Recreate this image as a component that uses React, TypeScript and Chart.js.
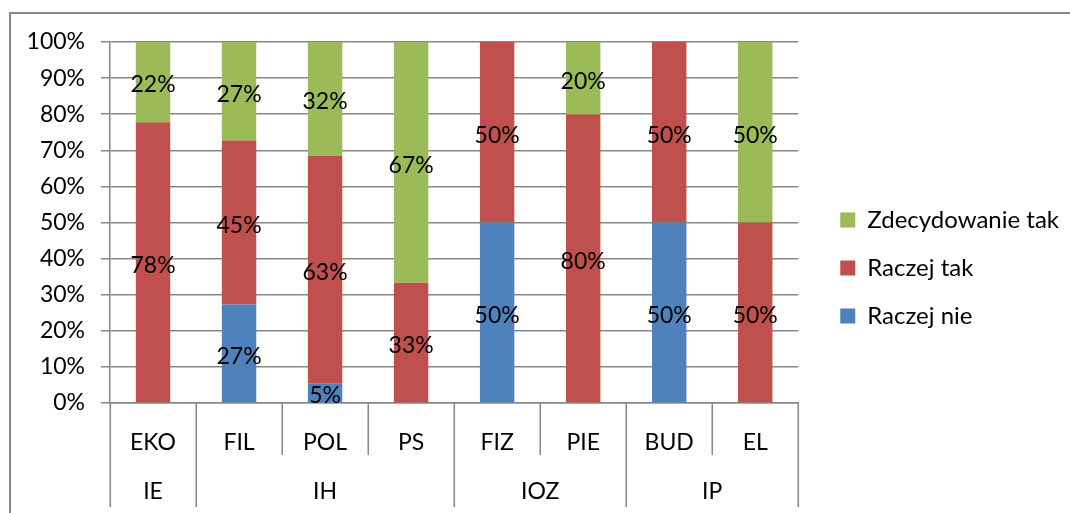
import React, { useEffect, useRef } from 'react';
import { Chart, registerables } from 'chart.js';

Chart.register(...registerables);

// ---- data ----
const categories = ['EKO', 'FIL', 'POL', 'PS', 'FIZ', 'PIE', 'BUD', 'EL'];
const groupLabels = ['IE', 'IH', 'IOZ', 'IP'];
const groupSizes = [1, 3, 2, 2];
const raczejNie = [0, 27.3, 5.3, 0, 50, 0, 50, 0];
const raczejTak = [77.8, 45.4, 63.2, 33.3, 50, 80, 50, 50];
const zdecydowanieTak = [22.2, 27.3, 31.5, 66.7, 0, 20, 0, 50];
const seriesNames = ['Raczej nie', 'Raczej tak', 'Zdecydowanie tak'];

// ---- style ----
const FONT = 'Lato';
const FS = 23;
const LEGEND_FS = 24;
const LEGEND_PAD = 24;
const LEGEND_BOX = 15;
const GRID = '#878787';
const COLORS = ['#4F81BD', '#C0504D', '#9BBB59'];

const frame = {
  id: 'frame',
  beforeDraw(chart: any) {
    const ctx = chart.ctx;
    ctx.save();
    ctx.fillStyle = '#ffffff';
    ctx.fillRect(0, 0, chart.width, chart.height);
    ctx.strokeStyle = GRID;
    ctx.lineWidth = 2;
    ctx.beginPath();
    ctx.moveTo(10, chart.height + 5);
    ctx.lineTo(10, 13);
    ctx.lineTo(chart.width + 5, 13);
    ctx.stroke();
    ctx.restore();
  },
};

const dataLabels = {
  id: 'dataLabels',
  afterDatasetsDraw(chart: any) {
    const ctx = chart.ctx;
    ctx.save();
    ctx.font = `${FS}px ${FONT}`;
    ctx.fillStyle = '#000';
    ctx.textAlign = 'center';
    ctx.textBaseline = 'middle';
    chart.data.datasets.forEach((ds: any, i: number) => {
      const meta = chart.getDatasetMeta(i);
      meta.data.forEach((el: any, j: number) => {
        const v = ds.data[j];
        if (!v) return;
        const p = el.getProps(['x', 'y', 'base'], true);
        ctx.fillText(Math.round(v) + '%', p.x, (p.y + p.base) / 2 + 3);
      });
    });
    ctx.restore();
  },
};

const groupAxis = {
  id: 'groupAxis',
  afterDraw(chart: any) {
    const xs = chart.scales.x;
    const ctx = chart.ctx;
    const top = xs.top;
    const edge = (i: number) => xs.getPixelForValue(i - 0.5);
    const groupEdges = new Set<number>([0]);
    let acc = 0;
    groupSizes.forEach((s) => {
      acc += s;
      groupEdges.add(acc);
    });
    ctx.save();
    ctx.strokeStyle = GRID;
    ctx.lineWidth = 1.5;
    for (let i = 0; i <= categories.length; i++) {
      const px = Math.round(edge(i)) + 0.25;
      const len = groupEdges.has(i) ? 104 : 52;
      ctx.beginPath();
      ctx.moveTo(px, top);
      ctx.lineTo(px, top + len);
      ctx.stroke();
    }
    ctx.font = `${FS}px ${FONT}`;
    ctx.fillStyle = '#000';
    ctx.textAlign = 'center';
    ctx.textBaseline = 'middle';
    let start = 0;
    groupSizes.forEach((s, g) => {
      const cx = (edge(start) + edge(start + s)) / 2;
      ctx.fillText(groupLabels[g], cx, top + 89);
      start += s;
    });
    ctx.restore();
  },
};

export default function App() {
  const ref = useRef<HTMLCanvasElement | null>(null);
  useEffect(() => {
    if (!ref.current) return;
    // measure the widest legend label so the plot area keeps its right edge
    const mctx = ref.current.getContext('2d')!;
    mctx.font = `${LEGEND_FS}px ${FONT}`;
    const tw = Math.max(...seriesNames.map((s) => mctx.measureText(s).width));
    const legendWidth = Math.ceil(LEGEND_PAD + LEGEND_BOX + LEGEND_FS / 2 + tw + 10) + 1;
    const padRight = Math.max(0, 1070 - 815 - legendWidth);

    const chart = new Chart(ref.current, {
      type: 'bar',
      data: {
        labels: categories,
        datasets: [raczejNie, raczejTak, zdecydowanieTak].map((d, i) => ({
          label: seriesNames[i],
          data: d,
          backgroundColor: COLORS[i],
          borderWidth: 0,
          barPercentage: 0.4,
          categoryPercentage: 1,
        })),
      },
      options: {
        responsive: false,
        animation: false,
        devicePixelRatio: 1,
        layout: { padding: { top: 42, left: 0, right: padRight, bottom: 19 } },
        plugins: {
          legend: {
            position: 'right',
            reverse: true,
            maxWidth: legendWidth,
            labels: {
              boxWidth: LEGEND_BOX,
              boxHeight: LEGEND_BOX,
              padding: LEGEND_PAD,
              color: '#000',
              font: { family: FONT, size: LEGEND_FS },
            },
          },
          tooltip: { enabled: false },
        },
        scales: {
          x: {
            stacked: true,
            grid: { display: false, drawTicks: false },
            border: { display: true, color: GRID, width: 1.5 },
            ticks: { padding: 26, color: '#000', font: { family: FONT, size: FS }, maxRotation: 0, autoSkip: false },
            afterFit: (s: any) => { s.height = 91; },
          },
          y: {
            stacked: true,
            min: 0,
            max: 100,
            grid: { color: GRID, lineWidth: 1.5, tickLength: 9 },
            border: { display: true, color: GRID, width: 1.5 },
            ticks: { stepSize: 10, padding: 16, color: '#000', font: { family: FONT, size: FS }, callback: (v: any) => v + '%' },
            afterFit: (s: any) => { s.width = 110; },
          },
          yPad: {
            type: 'linear',
            position: 'right',
            display: true,
            grid: { display: false, drawTicks: false },
            border: { display: false },
            ticks: { display: false },
            afterFit: (s: any) => { s.width = 18; },
          },
        },
      },
      plugins: [frame, dataLabels, groupAxis],
    } as any);
    return () => chart.destroy();
  }, []);
  return (
    <div style={{ position: 'fixed', left: 0, top: 0, width: 1070, height: 513 }}>
      <canvas ref={ref} width={1070} height={513} />
    </div>
  );
}
